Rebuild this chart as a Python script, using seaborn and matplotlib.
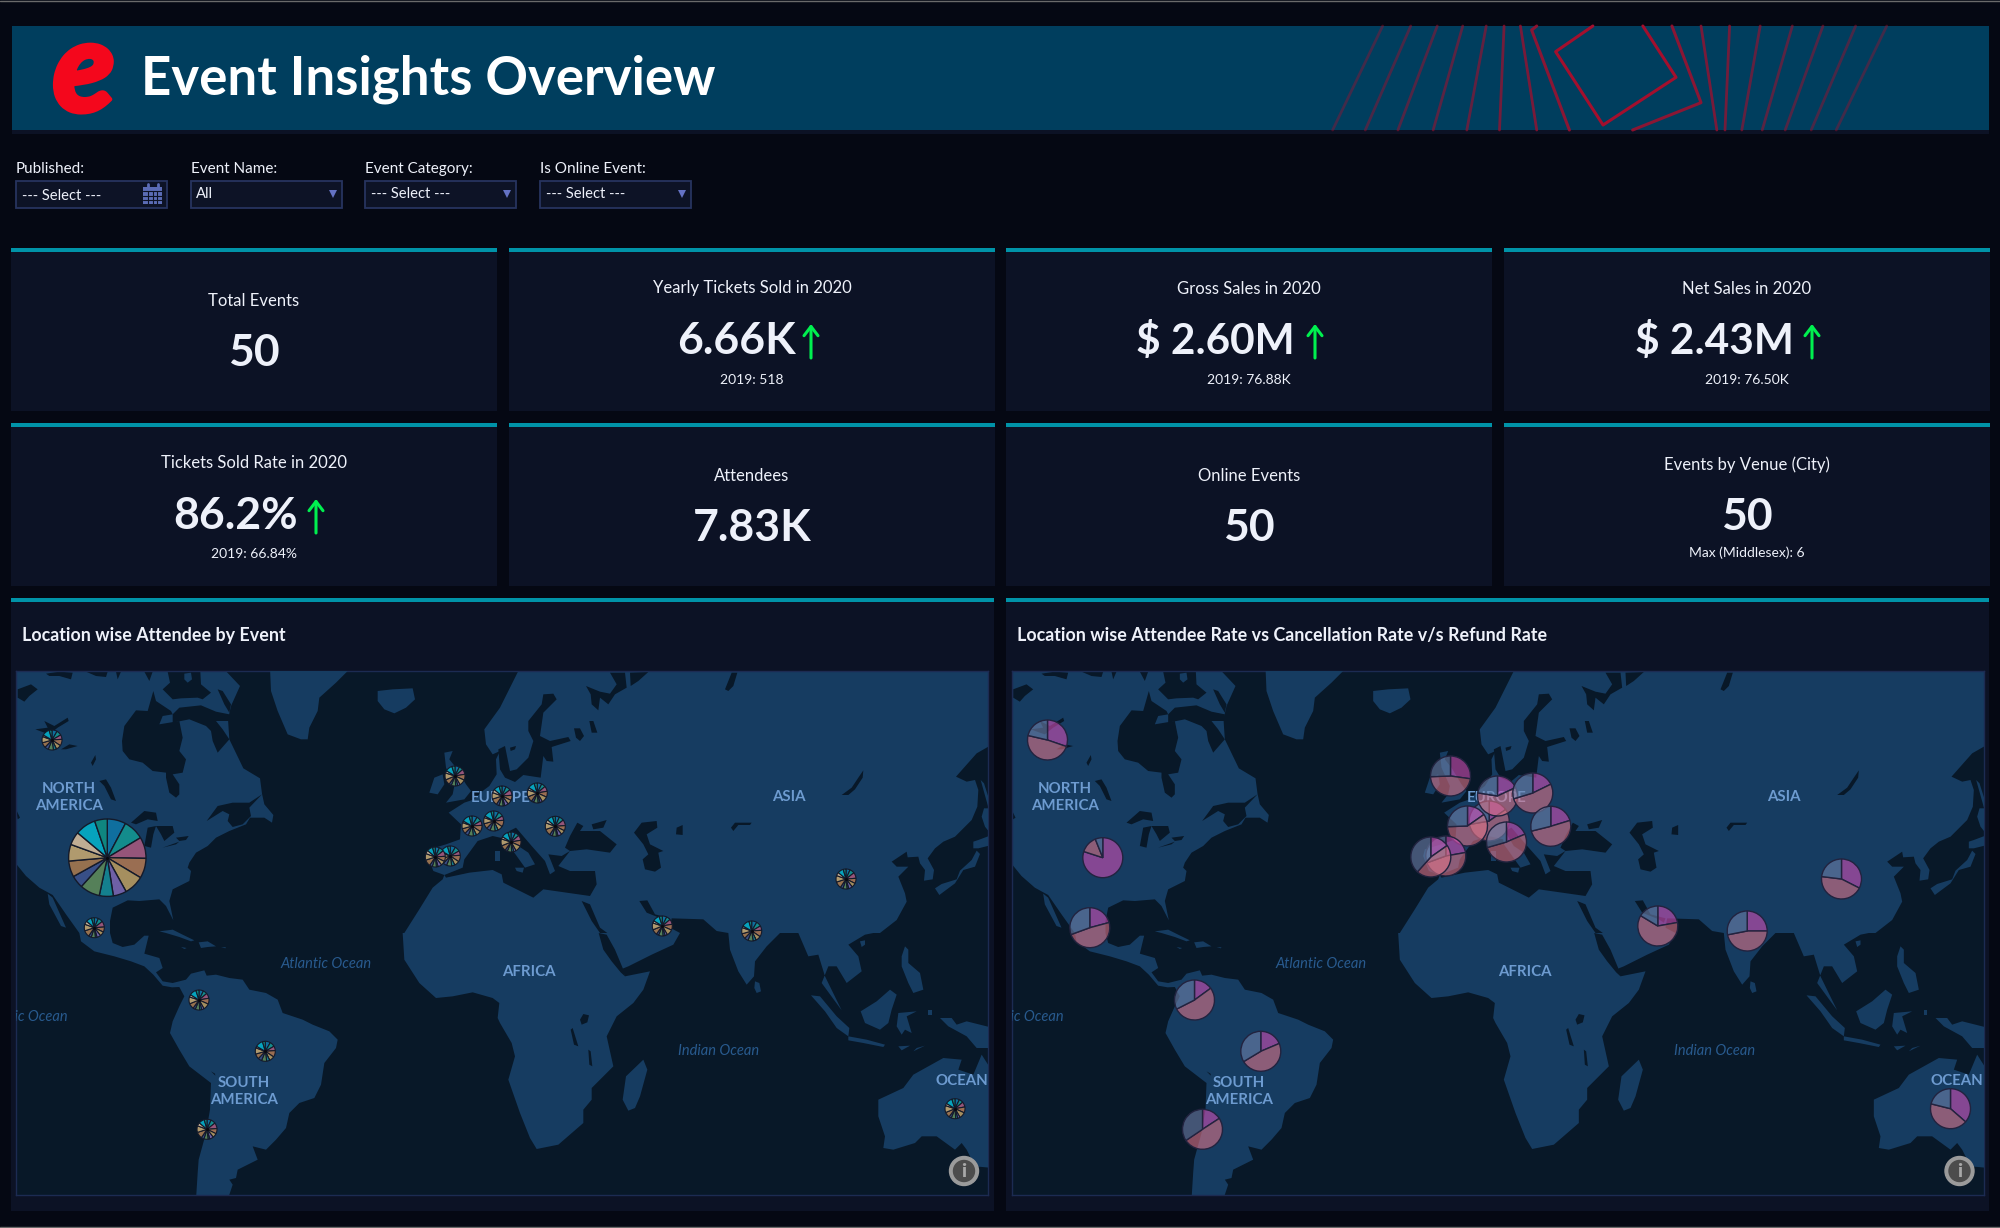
import numpy as np
import matplotlib
matplotlib.use("Agg")
import matplotlib.pyplot as plt
from matplotlib.colors import to_rgba
from matplotlib.patches import Rectangle, Circle
import matplotlib.patheffects as pe
import seaborn as sns

PAGE_W, PAGE_H = 2000, 1228

# kpi cards
CARD_LABELS = ["Total Events", "Yearly Tickets Sold in 2020", "Gross Sales in 2020", "Net Sales in 2020",
               "Tickets Sold Rate in 2020", "Attendees", "Online Events", "Events by Venue (City)"]
CARD_VALUES = ["50", "6.66K", "$ 2.60M", "$ 2.43M", "86.2%", "7.83K", "50", "50"]
CARD_NOTES = ["", "2019: 518", "2019: 76.88K", "2019: 76.50K", "2019: 66.84%", "", "", "Max (Middlesex): 6"]

FILTER_LABELS = ["Published:", "Event Name:", "Event Category:", "Is Online Event:"]
FILTER_VALUES = ["--- Select ---", "All", "--- Select ---", "--- Select ---"]

# pie locations on the map
LOCATION_X = [107.3, 52, 94.3, 199, 265.3, 207, 455, 493.7, 502, 537.3, 472, 555.3, 511, 450.3, 435.3, 662.3, 751.7, 846, 955]
LOCATION_Y = [857.7, 740, 927.7, 1000, 1051.3, 1129.3, 776, 821, 796, 793, 826, 826.3, 842, 856, 857, 926, 931, 879, 1108.7]

# attendees by event, biggest location (Middlesex) then the small ones
EVENT_SHARES_MAIN = [28, 31, 32, 30, 30, 20, 21, 30, 19, 24, 25, 20, 31, 19]
EVENT_SHARES_A = [26, 24, 30, 34, 36, 14, 12, 26, 14, 32, 40, 14, 40, 18]
EVENT_SHARES_B = [30, 30, 26, 38, 30, 0, 18, 30, 22, 30, 36, 10, 44, 16]
EVENT_SHARES_C = [24, 28, 34, 30, 26, 22, 10, 24, 16, 38, 38, 20, 34, 16]
EVENT_COLORS = ["#0f6f9f", "#138c8c", "#95557a", "#9a6e52", "#a58f5f", "#6f60a6", "#14808e",
                "#558059", "#384f87", "#96714f", "#b09a6e", "#c0ad94", "#06a3bd", "#0f8680"]

# attendee / cancellation / refund rate per location
ATTENDEE_RATE = [288, 109, 75, 54, 67, 57, 98, 55, 65, 64, 55, 73, 67, 80, 55, 80, 90, 117, 131]
CANCEL_RATE = [50, 174, 175, 189, 172, 179, 170, 205, 214, 189, 213, 183, 187, 170, 167, 221, 169, 160, 153]
REFUND_RATE = [22, 77, 110, 117, 121, 124, 92, 100, 81, 107, 92, 104, 106, 110, 138, 59, 101, 83, 76]
RATE_COLORS = ["#d64fb8", "#e27589", "#7083ad"]

# map outlines, traced in 3x tiles of the map
TILES = {"nw": (16, 671), "ne": (500, 671), "sw": (16, 933), "se": (500, 933), "jp": (860, 720)}

AMERICAS = [
    ("nw", [(-10, -10), (620, -10), (672, 45), (645, 105), (636, 145), (640, 205), (682, 292), (732, 322), (738, 368),
            (745, 400), (772, 432), (768, 455), (745, 440), (702, 440), (690, 460), (640, 480), (600, 500), (575, 525),
            (540, 545), (520, 575), (515, 590), (525, 600), (520, 630), (470, 655), (460, 690), (472, 748), (450, 705),
            (430, 685), (370, 690), (335, 688), (290, 710), (282, 750)]),
    ("sw", [(282, 0), (290, 30), (320, 42), (355, 35), (385, 8), (398, 8), (385, 62), (430, 75), (440, 105), (420, 118),
            (440, 145), (470, 150), (490, 145), (510, 140), (525, 122), (565, 112), (572, 128), (600, 125), (640, 135),
            (680, 140), (700, 170), (750, 180), (785, 200), (800, 240), (860, 260), (890, 275), (940, 295), (965, 320),
            (960, 345), (925, 390), (915, 455), (895, 495), (850, 510), (820, 540), (810, 585), (780, 620), (750, 650),
            (710, 640), (725, 680), (665, 710), (660, 735), (640, 740), (650, 755), (635, 800), (540, 800), (545, 720),
            (548, 680), (570, 600), (582, 530), (585, 450), (520, 400), (490, 350), (462, 300), (470, 265), (490, 220),
            (505, 190), (490, 162), (468, 163), (440, 158), (412, 125), (385, 100), (345, 85), (295, 70), (235, 55),
            (195, 25), (190, 0)]),
    ("nw", [(150, 730), (110, 672), (70, 650), (30, 615), (0, 578), (-10, 570)]),
]

AFRO_EURASIA = [
    ("ne", [(60, -10), (1480, -10), (1480, 215)]),
    ("jp", [(385, 80), (350, 100), (288, 170), (320, 185), (345, 180), (355, 210), (352, 260), (335, 300), (285, 350),
            (250, 365), (225, 385), (203, 415), (222, 450), (218, 478), (192, 482), (195, 450), (180, 430), (175, 410),
            (143, 412), (140, 395), (95, 425), (110, 440), (145, 440), (115, 470), (135, 520), (140, 545), (110, 600)]),
    ("ne", [(1140, 786)]),
    ("se", [(1120, 0), (1095, 5), (1045, 35), (1075, 70), (1085, 115), (1040, 150), (1010, 100), (985, 100), (965, 150),
            (1025, 232), (975, 130), (955, 65), (925, 70), (895, 0), (840, 0), (800, 40), (765, 85), (762, 130),
            (740, 155), (715, 115), (690, 50), (685, 0)]),
    ("ne", [(650, 780), (610, 745), (515, 742), (510, 770)]),
    ("se", [(540, 0), (520, 35), (455, 65), (385, 100), (365, 108), (375, 130), (450, 115), (430, 170), (400, 210),
            (350, 250), (320, 310), (340, 400), (275, 465), (275, 500), (250, 530), (250, 570), (175, 635), (110, 648),
            (90, 615), (60, 540), (25, 440), (45, 370), (35, 330), (0, 270)]),
    ("sw", [(1445, 255), (1450, 210), (1430, 195), (1370, 178), (1310, 190), (1260, 195), (1210, 150), (1165, 80), (1160, 0)]),
    ("nw", [(1165, 786), (1210, 715), (1250, 650), (1280, 625), (1285, 612), (1252, 600), (1235, 555), (1240, 535),
            (1290, 520), (1332, 505), (1335, 460), (1298, 425), (1345, 395), (1375, 385), (1400, 360), (1420, 345),
            (1442, 310), (1440, 265), (1452, 240), (1430, 250), (1410, 220), (1405, 175), (1452, 110)]),
]

ISLANDS = [
    [("nw", [(762, -10), (1005, -10), (960, 35), (910, 80), (905, 120), (880, 170), (875, 205), (855, 205), (815, 190), (785, 120), (765, 60)])],
    [("nw", [(1085, 60), (1130, 55), (1190, 52), (1197, 85), (1170, 110), (1135, 127), (1105, 115), (1085, 90)])],
    [("nw", [(1285, 245), (1310, 240), (1300, 265), (1320, 290), (1350, 340), (1365, 360), (1345, 385), (1290, 395), (1310, 370), (1315, 345), (1290, 290)])],
    [("nw", [(1240, 365), (1255, 320), (1280, 310), (1285, 340), (1265, 370)])],
    [("nw", [(95, 668), (110, 680), (150, 770), (135, 765), (100, 700)])],
    [("sw", [(430, -5), (470, -10), (500, 5), (535, 22), (525, 25), (490, 12), (450, 0)])],
    [("sw", [(548, 28), (575, 25), (600, 40), (575, 42), (555, 45)])],
    [("sw", [(495, 42), (512, 45), (505, 48)])],
    [("sw", [(615, 42), (630, 43), (628, 46)])],
    [("se", [(765, 145), (778, 150), (783, 175), (770, 180), (763, 165)])],
    [("se", [(430, 380), (442, 410), (420, 490), (405, 525), (385, 533), (368, 500), (378, 430)])],
    [("se", [(933, 187), (960, 190), (1010, 250), (1048, 285), (1045, 310), (1010, 285), (975, 235)])],
    [("se", [(1045, 310), (1100, 320), (1155, 335), (1150, 342), (1090, 330), (1045, 322)])],
    [("se", [(1082, 235), (1130, 205), (1170, 170), (1190, 185), (1175, 230), (1165, 270), (1140, 290), (1095, 270)])],
    [("se", [(1195, 240), (1250, 235), (1220, 250), (1235, 300), (1215, 290), (1205, 305), (1190, 280)])],
    [("se", [(1320, 255), (1355, 255), (1370, 275), (1400, 265), (1480, 285), (1480, 345), (1430, 345), (1400, 310), (1345, 280)])],
    [("se", [(1205, 70), (1215, 40), (1225, 50), (1225, 90), (1260, 120), (1270, 170), (1240, 180), (1225, 150), (1205, 100)])],
    [("se", [(1285, 230), (1295, 230), (1295, 245), (1285, 245)])],
    [("se", [(1195, 340), (1230, 338), (1205, 352)])],
    [("se", [(1240, 355), (1275, 338), (1250, 345)])],
    [("se", [(1080, 25), (1095, 22), (1095, 35), (1085, 42)])],
    [("se", [(1135, 500), (1210, 465), (1240, 425), (1285, 400), (1330, 375), (1385, 380), (1375, 410), (1420, 425), (1445, 365),
             (1480, 420), (1480, 705), (1425, 700), (1400, 650), (1385, 630), (1365, 650), (1310, 610), (1265, 610), (1245, 630),
             (1180, 650), (1150, 645), (1155, 610), (1135, 550)])],
    # japan and sakhalin
    [("jp", [(225, 505), (245, 492), (290, 478), (300, 452), (335, 420), (350, 392), (360, 402), (345, 440), (310, 450), (285, 490), (238, 525)])],
    [("jp", [(340, 365), (355, 360), (395, 345), (395, 375), (355, 385), (340, 385)])],
    [("jp", [(362, 180), (372, 190), (395, 262), (385, 262)])],
    [("jp", [(372, 265), (395, 265), (395, 345), (375, 320), (365, 290)])],
    [("nw", [(505, 8), (525, 5), (528, 25), (515, 35), (505, 25)])],
    [("nw", [(1437, 540), (1452, 540), (1452, 570), (1438, 570)])],
    [("ne", [(45, 590), (72, 590), (68, 605), (50, 600)])],
]

SEAS = [
    # arctic canada and lakes
    [("nw", [(5, 55), (45, 40), (65, 55), (40, 75), (25, 92), (5, 80)])],
    [("nw", [(90, 8), (130, 2), (170, 5), (165, 25), (130, 15), (100, 15)])],
    [("nw", [(210, 2), (275, 2), (270, 18), (240, 15)])],
    [("nw", [(300, 2), (315, 2), (305, 25)])],
    [("nw", [(385, 2), (410, 2), (400, 30)])],
    [("nw", [(58, 175), (95, 170), (85, 150), (115, 165), (155, 140), (158, 150), (125, 170), (100, 190), (85, 185)])],
    [("nw", [(135, 235), (160, 220), (185, 225), (150, 235)])],
    [("nw", [(225, 275), (238, 252), (240, 265), (230, 285)])],
    [("nw", [(250, 330), (270, 325), (285, 350), (300, 390), (285, 385), (265, 345)])],
    [("nw", [(0, 415), (12, 440), (5, 445)])],
    [("nw", [(345, 455), (385, 420), (420, 425), (425, 450), (395, 445), (360, 460)])],
    [("nw", [(385, 525), (395, 470), (420, 465), (412, 490), (405, 530)])],
    [("nw", [(420, 465), (470, 465), (475, 485), (445, 510), (435, 490)])],
    [("nw", [(440, 530), (490, 512), (480, 520)])],
    [("nw", [(480, 500), (518, 495), (510, 507), (490, 510)])],
    [("nw", [(572, 450), (605, 405), (650, 395), (700, 395), (738, 370), (700, 410), (705, 435), (680, 460), (650, 468), (635, 450), (640, 430), (620, 420)])],
    [("nw", [(318, 210), (325, 165), (360, 118), (395, 120), (412, 60), (420, 90), (465, 120), (470, 130), (440, 135), (430, 160), (490, 150),
             (500, 200), (490, 240), (510, 265), (500, 305), (470, 310), (490, 340), (490, 370), (480, 380), (460, 365), (450, 320), (450, 305),
             (410, 300), (380, 275), (340, 265), (320, 240)])],
    [("nw", [(470, 155), (520, 145), (570, 165), (585, 180), (590, 210), (605, 245), (640, 205), (620, 175), (600, 150), (640, 150), (640, 130), (600, 122), (555, 103), (490, 110), (470, 130)])],
    [("nw", [(455, 2), (462, 35), (440, 55), (470, 85), (495, 82), (545, 80), (560, 85), (585, 65), (555, 40), (553, 2)])],
    [("nw", [(605, 55), (620, 60), (645, 100), (640, 125), (625, 100)])],
    # inland seas of the old world
    [("nw", [(1285, 612), (1340, 590), (1345, 565), (1385, 510), (1430, 495), (1475, 505)]),
     ("ne", [(25, 520), (50, 555), (75, 590), (105, 580), (85, 545), (55, 525), (28, 480), (48, 470), (95, 525), (135, 570), (150, 610),
             (165, 600), (145, 550), (185, 555), (210, 540), (175, 585), (210, 600), (285, 600), (290, 640), (270, 675), (130, 655),
             (100, 680), (10, 635), (5, 610)]),
     ("nw", [(1430, 597), (1360, 605), (1290, 620)])],
    [("ne", [(195, 530), (210, 495), (232, 455), (250, 465), (240, 480), (300, 480), (350, 520), (330, 545), (260, 535), (210, 540)])],
    [("ne", [(275, 460), (320, 447), (310, 470), (280, 475)])],
    [("ne", [(402, 485), (425, 455), (470, 450), (472, 470), (440, 490), (450, 520), (490, 540), (475, 545), (483, 590), (465, 602), (435, 595), (428, 565), (445, 550), (430, 520)])],
    [("ne", [(528, 490), (530, 470), (548, 462), (548, 492)])],
    [("ne", [(693, 470), (705, 455), (755, 455), (750, 462), (715, 462), (700, 480)])],
    [("ne", [(1025, 372), (1055, 350), (1075, 320), (1090, 298), (1088, 320), (1065, 355), (1045, 372)])],
    [("ne", [(418, 690), (442, 688), (465, 730), (510, 742), (505, 755), (490, 745), (440, 725)])],
    [("ne", [(245, 690), (270, 700), (300, 770), (322, 786), (300, 786), (275, 750)])],
    [("se", [(296, 0), (320, 5), (345, 50), (368, 105), (375, 130), (362, 118), (335, 85), (310, 50)])],
    [("ne", [(130, 70), (160, 68), (170, 85), (130, 125), (120, 195), (150, 210), (205, 198), (212, 210), (155, 228), (160, 272), (140, 270), (130, 255),
             (122, 320), (70, 312), (45, 333), (15, 320), (0, 295), (-5, 235), (15, 225), (30, 300), (50, 295), (85, 260), (100, 210), (85, 180), (85, 150), (125, 100)])],
    [("ne", [(258, 45), (300, 62), (330, 68), (350, 40), (330, 5), (375, 5), (380, 50), (345, 70), (325, 100), (300, 80), (295, 118), (275, 100), (272, 70)])],
    [("ne", [(390, 5), (445, 3), (415, 30), (392, 45)])],
    [("ne", [(222, 172), (240, 172), (252, 195), (240, 210), (228, 200)])],
    [("ne", [(268, 150), (280, 150), (292, 185), (275, 185)])],
    [("ne", [(30, 230), (48, 225), (45, 235), (32, 240)])],
    [("ne", [(675, 55), (695, 5), (712, 5), (700, 45), (685, 60)])],
    # lakes in africa and south america
    [("se", [(240, 260), (250, 243), (267, 247), (262, 268), (245, 275)])],
    [("se", [(212, 290), (218, 285), (235, 340), (222, 335)])],
    [("se", [(265, 350), (272, 355), (277, 400), (268, 395)])],
    [("sw", [(585, 415), (597, 422), (598, 428)])],
]

# red fan in the banner: x at top and bottom edge, strength
FAN_TOP_X = [358, 413, 465, 515, 561, 596, 628, 982, 1038, 1098, 1161, 1221, 1285, 1346]
FAN_BOTTOM_X = [260, 324, 388, 457, 523, 587, 660, 1013, 1029, 1062, 1102, 1147, 1198, 1247]
FAN_ALPHA = [0.4, 0.45, 0.5, 0.55, 0.6, 0.7, 0.75, 0.75, 0.7, 0.6, 0.55, 0.5, 0.45, 0.4]

sns.set_theme(style="dark", rc={"figure.facecolor": "#050813", "axes.facecolor": "#050813"})
plt.rcParams["font.family"] = ["Lato", "DejaVu Sans"]

PAGE_BG = "#050813"
PANEL_BG = "#0c1225"
TEAL = "#0093a8"
LAND = "#163c61"
OCEAN = "#081828"
WHITE = "#eef1fa"
LABEL_BLUE = "#6d9bd0"
OCEAN_BLUE = "#285a8e"
FAN_RED = "#a30f2d"


def trace(chunks):
    # tile chunks to map coords (y up, the pies need it)
    pts = [np.array(p, dtype=float) / 3 + TILES[t] for t, p in chunks]
    pts = np.vstack(pts)
    pts[:, 1] = PAGE_H - pts[:, 1]
    return pts


def draw_map_base(ax):
    ax.set_facecolor(OCEAN)
    ax.fill(*trace(AMERICAS).T, color=LAND, lw=0, zorder=1)
    ax.fill(*trace(AFRO_EURASIA).T, color=LAND, lw=0, zorder=1)
    for sea in SEAS:
        ax.fill(*trace(sea).T, color=OCEAN, lw=0, zorder=2)
    for isl in ISLANDS:
        ax.fill(*trace(isl).T, color=LAND, lw=0, zorder=3)
    labels = [("NORTH", 69.3, 789), ("AMERICA", 69.3, 806.3), ("EUROPE", 501, 798), ("ASIA", 788.7, 797),
              ("AFRICA", 529, 971.7), ("SOUTH", 243.7, 1083.3), ("AMERICA", 243.7, 1100.3)]
    for txt, x, y in labels:
        ax.text(x, PAGE_H - y, txt, color=LABEL_BLUE, fontsize=10.8, fontweight="bold", ha="center", va="center", zorder=4)
    ax.text(935, PAGE_H - 1081, "OCEANIA", color=LABEL_BLUE, fontsize=10.8, fontweight="bold", ha="left", va="center", zorder=4, clip_on=True)
    for txt, x, y, ha in [("Atlantic Ocean", 326, 964.3, "center"), ("Indian Ocean", 719, 1050.7, "center"), ("Pacific Ocean", 67.7, 1016.7, "right")]:
        ax.text(x, PAGE_H - y, txt, color=OCEAN_BLUE, fontsize=10.5, fontstyle="italic", ha=ha, va="center", zorder=4, clip_on=True)


def finish_map(ax):
    ax.set_xlim(16, 988)
    ax.set_ylim(PAGE_H - 1195, PAGE_H - 671)
    ax.set_aspect("auto")
    ax.set_frame_on(True)
    ax.set(xticks=[], yticks=[], xlabel=None, ylabel=None)
    for s in ax.spines.values():
        s.set_color("#1c2b52")
        s.set_linewidth(1)
    # info button
    ax.add_patch(Circle((964, PAGE_H - 1171), 14.5, color="#9b9b9b", zorder=30))
    ax.add_patch(Circle((964, PAGE_H - 1171), 10.5, color="#4c4c4c", zorder=31))
    ax.text(964, PAGE_H - 1171.5, "i", color="#a8a8a8", fontsize=14, fontweight="black", ha="center", va="center", zorder=32)


fig = plt.figure(figsize=(PAGE_W / 100, PAGE_H / 100), dpi=100, facecolor=PAGE_BG)
page = fig.add_axes([0, 0, 1, 1])
page.set_xlim(0, PAGE_W)
page.set_ylim(PAGE_H, 0)
page.axis("off")

page.plot([0, PAGE_W], [0.5, 0.5], color="#6a6a6a", lw=1)
page.plot([0, PAGE_W], [1227, 1227], color="#6a6a6a", lw=1)

# banner
page.add_patch(Rectangle((12, 26), 1977, 104, color="#003e5e", lw=0))
page.add_patch(Rectangle((12, 130), 1977, 4, color="#0c1225", lw=0))
for top, bottom, alpha in zip(FAN_TOP_X, FAN_BOTTOM_X, FAN_ALPHA):
    page.plot([1200 + top / 1.96, 1200 + bottom / 1.96], [26, 130], color=FAN_RED, alpha=alpha, lw=2)
inner = np.array([(770, 78), (697, 155), (790, 375), (933, 232), (868, 78)]) / [1.96, 3] + [1200, 0]
page.plot(*inner.T, color=FAN_RED, lw=2.2, solid_joinstyle="round")
outer = np.array([(660, 78), (650, 90), (724, 390)]) / [1.96, 3] + [1200, 0]
page.plot(*outer.T, color=FAN_RED, lw=2.2, alpha=0.85, solid_joinstyle="round")
outer = np.array([(925, 78), (982, 308), (848, 390)]) / [1.96, 3] + [1200, 0]
page.plot(*outer.T, color=FAN_RED, lw=2.2, alpha=0.85, solid_joinstyle="round")

page.text(84, 74, "e", color="#f4071c", fontsize=92, fontweight="black", fontstyle="italic",
          ha="center", va="center", path_effects=[pe.withStroke(linewidth=3, foreground="#f4071c")])
page.text(141, 79.5, "Event Insights Overview", color="white", fontsize=38, fontweight="bold", ha="left", va="center")

# filters
for i, (lab, val) in enumerate(zip(FILTER_LABELS, FILTER_VALUES)):
    x = 16 + i * 174.7
    page.text(x, 169, lab, color=WHITE, fontsize=11, ha="left", va="center")
    page.add_patch(Rectangle((x, 180.5), 151, 27, facecolor="#0d1326", edgecolor="#27345f", lw=1.3))
    page.text(x + 5.5, 195.5 if i == 0 else 194.5, val, color=WHITE, fontsize=10.6, ha="left", va="center")
    if i > 0:
        page.plot([x + 142], [194], marker="v", color="#6472c4", ms=6, mew=0)
# calendar icon
page.add_patch(Rectangle((143, 187), 19, 17, color="#5b6cb5", lw=0))
for gx in [148, 152.5, 157]:
    page.plot([gx, gx], [191, 204], color="#0d1326", lw=0.8)
for gy in [191, 195.5, 200]:
    page.plot([143, 162], [gy, gy], color="#0d1326", lw=0.8)
page.plot([147.5, 147.5], [184, 188], color="#5b6cb5", lw=2)
page.plot([157.5, 157.5], [184, 188], color="#5b6cb5", lw=2)

# cards
CARD_X = [11, 509, 1006, 1504]
CARD_W = 486
CARD_Y = [(248, 411), (423, 586)]
LABEL_Y = [301.5, 288.5, 288.5, 288.5, 463.5, 476, 476, 464.5]
VALUE_Y = [353, 341, 341, 341, 516, 528, 528, 517]
NOTE_Y = [0, 379.5, 379.5, 379.5, 553.5, 0, 0, 552.5]
VALUE_X = [254, 736, 1215, 1714, 236, 752, 1249, 1747]
VALUE_SIZE = [32, 32, 30.5, 30.5, 32, 32, 32, 32]
ARROW_X = [None, 811, 1315, 1812, 316, None, None, None]
for i in range(8):
    x0 = CARD_X[i % 4]
    y0, y1 = CARD_Y[i // 4]
    cx = x0 + CARD_W / 2
    page.add_patch(Rectangle((x0, y0), CARD_W, y1 - y0, color=PANEL_BG, lw=0))
    page.add_patch(Rectangle((x0, y0), CARD_W, 4, color=TEAL, lw=0))
    page.text(cx, LABEL_Y[i], CARD_LABELS[i], color=WHITE, fontsize=12, ha="center", va="center")
    page.text(VALUE_X[i], VALUE_Y[i], CARD_VALUES[i], color=WHITE, fontsize=VALUE_SIZE[i], fontweight="bold", ha="center", va="center")
    if CARD_NOTES[i]:
        page.text(cx, NOTE_Y[i], CARD_NOTES[i], color=WHITE, fontsize=10, ha="center", va="center")
    if ARROW_X[i] is not None:
        mid = VALUE_Y[i]
        page.annotate("", xy=(ARROW_X[i], mid - 17), xytext=(ARROW_X[i], mid + 17),
                      arrowprops=dict(arrowstyle="->,head_length=0.55,head_width=0.42", color="#00f04f", lw=2.2, shrinkA=0, shrinkB=0))

# map panels
for x0, title in [(11, "Location wise Attendee by Event"), (1006, "Location wise Attendee Rate vs Cancellation Rate v/s Refund Rate")]:
    page.add_patch(Rectangle((x0, 598), 983, 613, color=PANEL_BG, lw=0))
    page.add_patch(Rectangle((x0, 598), 983, 4, color=TEAL, lw=0))
    page.text(x0 + 11, 636, title, color=WHITE, fontsize=12.9, fontweight="bold", ha="left", va="center")

map_pos_y = (PAGE_H - 1195) / PAGE_H
map_h = 524 / PAGE_H
map_w = 972 / PAGE_W

ax_events = fig.add_axes([16 / PAGE_W, map_pos_y, map_w, map_h])
draw_map_base(ax_events)
loc_y = PAGE_H - np.array(LOCATION_Y)
event_palette = sns.color_palette(EVENT_COLORS)
small_sets = [EVENT_SHARES_A, EVENT_SHARES_B, EVENT_SHARES_C]
for i, (x, y) in enumerate(zip(LOCATION_X, loc_y)):
    shares = EVENT_SHARES_MAIN if i == 0 else small_sets[i % 3]
    radius = 38.7 if i == 0 else 10
    ax_events.pie(shares, center=(x, y), radius=radius, colors=event_palette, startangle=90, counterclock=False,
                  wedgeprops=dict(edgecolor="#141a2a", linewidth=1.0 if i == 0 else 0.8, zorder=10))
sns.scatterplot(x=LOCATION_X, y=loc_y, s=5, color="#0a0a10", linewidth=0, legend=False, ax=ax_events, zorder=12)
finish_map(ax_events)

ax_rates = fig.add_axes([1011.5 / PAGE_W, map_pos_y, map_w, map_h])
draw_map_base(ax_rates)
rate_palette = [to_rgba(c, 0.58) for c in RATE_COLORS]
for i, (x, y) in enumerate(zip(LOCATION_X, loc_y)):
    ax_rates.pie([ATTENDEE_RATE[i], CANCEL_RATE[i], REFUND_RATE[i]], center=(x, y), radius=20, colors=rate_palette,
                 startangle=90, counterclock=False, wedgeprops=dict(edgecolor="#22233f", linewidth=1.0, zorder=10 + i))
finish_map(ax_rates)

fig.savefig("out.png", dpi=100, facecolor=PAGE_BG)
